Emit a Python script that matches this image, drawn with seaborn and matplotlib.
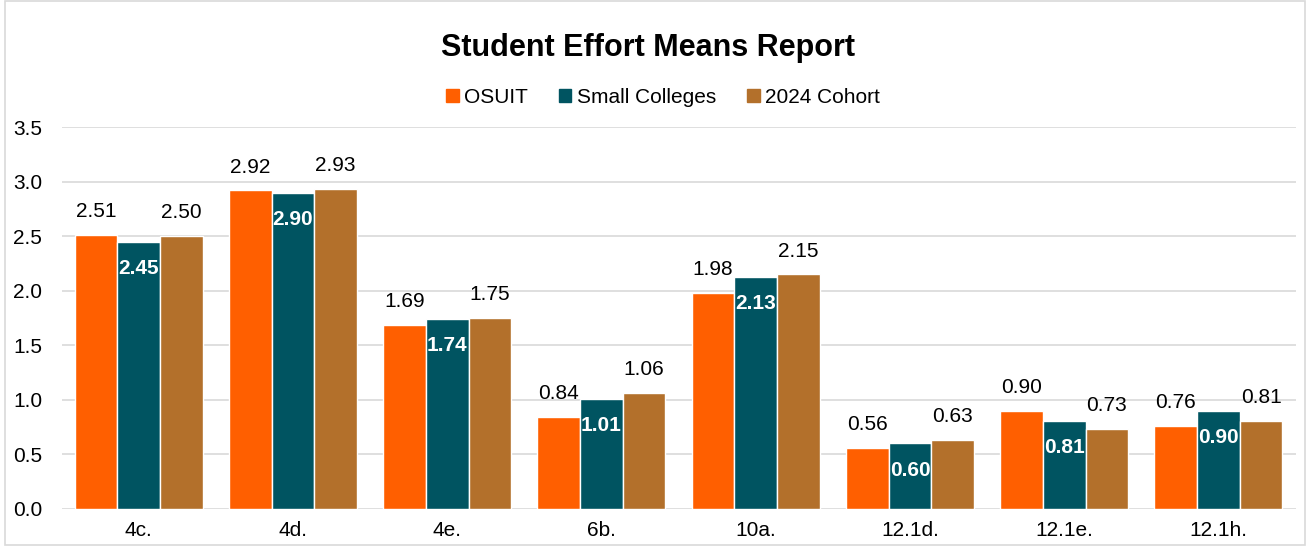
import numpy as np
import pandas as pd
import seaborn as sns
import matplotlib.pyplot as plt
from matplotlib.patches import Rectangle

categories = ['4c.', '4d.', '4e.', '6b.', '10a.', '12.1d.', '12.1e.', '12.1h.']
series = ['OSUIT', 'Small Colleges', '2024 Cohort']
osuit = [2.51, 2.92, 1.69, 0.84, 1.98, 0.56, 0.90, 0.76]
small_colleges = [2.45, 2.90, 1.74, 1.01, 2.13, 0.60, 0.81, 0.90]
cohort_2024 = [2.50, 2.93, 1.75, 1.06, 2.15, 0.63, 0.73, 0.81]
colors = ['#FF5F00', '#005461', '#B3702B']

df = pd.DataFrame({
    'item': categories * 3,
    'group': [series[0]] * 8 + [series[1]] * 8 + [series[2]] * 8,
    'mean': osuit + small_colleges + cohort_2024,
})

sns.set_style('white')
plt.rcParams['font.family'] = ['Liberation Sans', 'DejaVu Sans']
plt.rcParams['text.color'] = 'black'

fig = plt.figure(figsize=(13.1, 5.46), dpi=100)
ax = fig.add_axes([0.047, 0.068, 0.942, 0.699])

sns.barplot(data=df, x='item', y='mean', hue='group', hue_order=series,
            palette=colors, saturation=1, width=0.83, edgecolor='white',
            linewidth=1, ax=ax, legend=False)

ax.set_ylim(0, 3.5)
ax.set_yticks(np.arange(0, 3.51, 0.5))
ax.set_yticklabels([f'{v:.1f}' for v in np.arange(0, 3.51, 0.5)])
ax.yaxis.grid(True, color='#D9D9D9', linewidth=1.2)
ax.set_axisbelow(True)
for s in ax.spines.values():
    s.set_visible(False)
ax.tick_params(axis='y', length=0, labelsize=15, colors='#000000', pad=14)
ax.tick_params(axis='x', length=0, labelsize=15, colors='#000000', pad=9)
ax.set_xlabel('')
ax.set_ylabel('')
ax.set_xlim(-0.5, len(categories) - 0.5)

# value labels
for i, cont in enumerate(ax.containers):
    if i == 1:
        ax.bar_label(cont, fmt='%.2f', label_type='edge', padding=-26,
                     color='white', fontsize=15, fontweight='bold')
    else:
        ax.bar_label(cont, fmt='%.2f', padding=10, color='black', fontsize=15)

# legend
handles = [Rectangle((0, 0), 1, 1, color=c) for c in colors]
fig.legend(handles, series, loc='center', bbox_to_anchor=(0.506, 0.822), ncol=3,
           frameon=False, fontsize=15, handlelength=0.6, handleheight=0.6,
           handletextpad=0.25, columnspacing=1.5)

fig.suptitle('Student Effort Means Report', x=0.495, y=0.94, fontsize=22,
             fontweight='bold', color='black')

fig.patches.append(Rectangle((0.004, 0.002), 0.992, 0.996, transform=fig.transFigure,
                             fill=False, edgecolor='#D9D9D9', linewidth=1.2))

fig.savefig('out.png', dpi=100)
